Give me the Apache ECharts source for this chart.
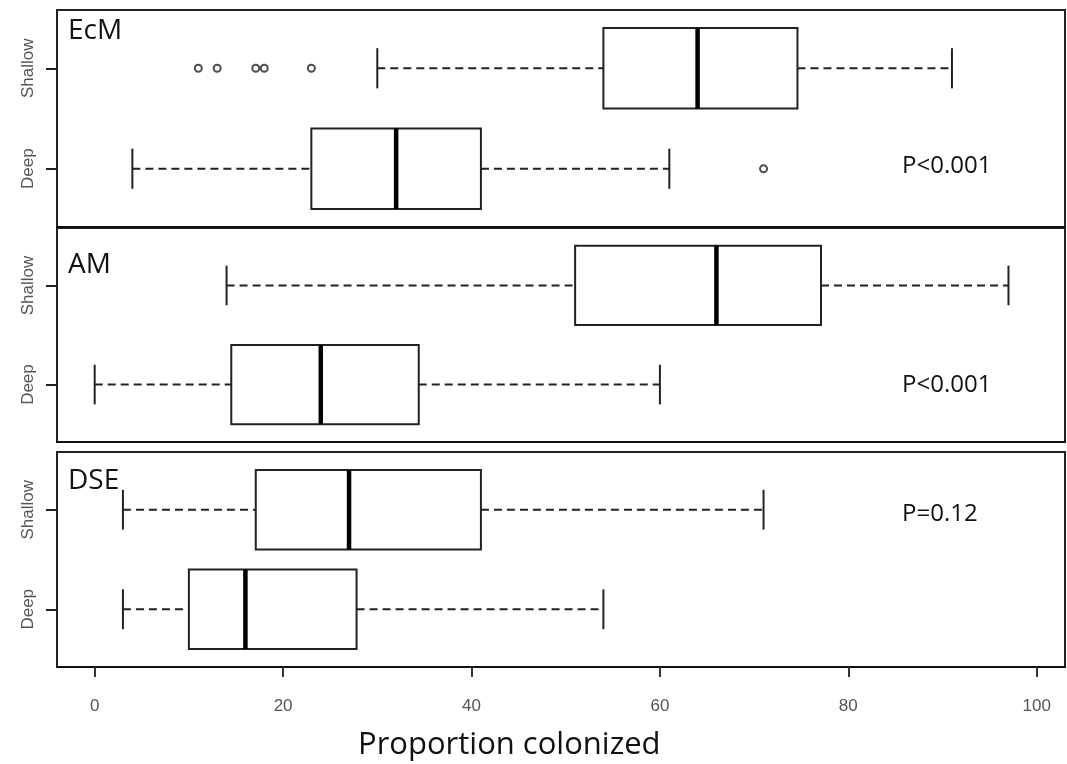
<!DOCTYPE html>
<html>
<head>
<meta charset="utf-8">
<script src="https://cdn.jsdelivr.net/npm/echarts@6/dist/echarts.min.js"></script>
<style>html,body{margin:0;padding:0;background:#fff}#c{width:1067px;height:764px}</style>
</head>
<body>
<div id="c"></div>
<script>
// ---- data ----
const xTicks = [0, 20, 40, 60, 80, 100];
const groups = ['Deep', 'Shallow'];          // y positions 1, 2
const panels = ['EcM', 'AM', 'DSE'];
const pValues = ['P<0.001', 'P<0.001', 'P=0.12'];
// [lower whisker, Q1, median, Q3, upper whisker]
const ecmDeep = [4, 23, 32, 41, 61];
const ecmShallow = [30, 54, 64, 74.6, 91];
const amDeep = [0, 14.5, 24, 34.4, 60];
const amShallow = [14, 51, 66, 77.1, 97];
const dseDeep = [3, 10, 16, 27.8, 54];
const dseShallow = [3, 17.1, 27, 41, 71];
const ecmDeepOutliers = [71];
const ecmShallowOutliers = [11, 13, 17.1, 18, 23];
const amDeepOutliers = [];
const amShallowOutliers = [];
const dseDeepOutliers = [];
const dseShallowOutliers = [];

const boxes = [[ecmDeep, ecmShallow], [amDeep, amShallow], [dseDeep, dseShallow]];
const outliers = [[ecmDeepOutliers, ecmShallowOutliers], [amDeepOutliers, amShallowOutliers], [dseDeepOutliers, dseShallowOutliers]];

// ---- layout ----
const gridTops = [10, 228, 452];
const gridHeights = [217, 214, 215];

const chart = echarts.init(document.getElementById('c'), null, {renderer: 'canvas'});

const grid = [], xAxis = [], yAxis = [], series = [];
panels.forEach((name, i) => {
  grid.push({left: 57, right: 2, top: gridTops[i], height: gridHeights[i], show: true,
    borderColor: '#222', borderWidth: 2, backgroundColor: '#fff'});
  const last = i === panels.length - 1;
  xAxis.push({
    type: 'value', gridIndex: i, min: -4, max: 103, interval: 20,
    axisLine: {show: true, onZero: false, lineStyle: {color: '#111', width: 2}},
    axisTick: {show: last, length: 10, lineStyle: {color: '#333', width: 2}, customValues: xTicks},
    axisLabel: {show: last, customValues: xTicks, margin: 31, fontSize: 17, color: '#555', fontFamily: 'Liberation Sans'},
    splitLine: {show: false}
  });
  yAxis.push({
    type: 'value', gridIndex: i, min: 0.42, max: 2.58,
    axisLine: {show: true, onZero: false, lineStyle: {color: '#222', width: 2}},
    axisTick: {show: true, length: 11, customValues: [1, 2], lineStyle: {color: '#222', width: 2}},
    axisLabel: {show: true, customValues: [1, 2], rotate: 90, margin: 20, fontSize: 17, color: '#555',
      fontFamily: 'Liberation Sans', formatter: v => groups[Math.round(v) - 1]},
    splitLine: {show: false}
  });
  const data = boxes[i].map((b, g) => [g + 1].concat(b));
  series.push({
    type: 'custom', xAxisIndex: i, yAxisIndex: i, data: data,
    encode: {x: [1, 2, 3, 4, 5], y: 0},
    renderItem: function (params, api) {
      const y = api.value(0);
      const lo = api.coord([api.value(1), y]);
      const q1 = api.coord([api.value(2), y]);
      const md = api.coord([api.value(3), y]);
      const q3 = api.coord([api.value(4), y]);
      const hi = api.coord([api.value(5), y]);
      const half = api.size([0, 0.4])[1];
      const cap = api.size([0, 0.2])[1];
      const cy = lo[1];
      const dash = {stroke: '#222', lineWidth: 2, lineDash: [8, 5]};
      const solid = {stroke: '#222', lineWidth: 2};
      return {type: 'group', children: [
        {type: 'line', shape: {x1: lo[0], y1: cy, x2: q1[0], y2: cy}, style: dash},
        {type: 'line', shape: {x1: q3[0], y1: cy, x2: hi[0], y2: cy}, style: dash},
        {type: 'line', shape: {x1: lo[0], y1: cy - cap, x2: lo[0], y2: cy + cap}, style: solid},
        {type: 'line', shape: {x1: hi[0], y1: cy - cap, x2: hi[0], y2: cy + cap}, style: solid},
        {type: 'rect', shape: {x: q1[0], y: cy - half, width: q3[0] - q1[0], height: 2 * half},
          style: {fill: '#fff', stroke: '#222', lineWidth: 2}},
        {type: 'line', shape: {x1: md[0], y1: cy - half, x2: md[0], y2: cy + half},
          style: {stroke: '#000', lineWidth: 4.5}}
      ]};
    },
    silent: true, z: 3
  });
  const pts = [];
  outliers[i].forEach((arr, g) => arr.forEach(v => pts.push([v, g + 1])));
  series.push({
    type: 'scatter', xAxisIndex: i, yAxisIndex: i, data: pts,
    symbol: 'circle', symbolSize: 7,
    itemStyle: {color: '#fff', borderColor: '#222', borderWidth: 2}, silent: true, z: 4
  });
});

const graphic = [];
const labelY = [35, 269, 485];
panels.forEach((name, i) => {
  graphic.push({type: 'text', left: 68, top: labelY[i] - 18,
    style: {text: name, font: '28px "Open Sans"', fill: '#111'}});
});
const pY = [169, 388, 517];
pValues.forEach((t, i) => {
  graphic.push({type: 'text', left: 902, top: pY[i] - 15,
    style: {text: t, font: '24px "Open Sans"', fill: '#111'}});
});
graphic.push({type: 'text', left: 358, top: 730,
  style: {text: 'Proportion colonized', font: '31px "Open Sans"', fill: '#111'}});

chart.setOption({animation: false, grid, xAxis, yAxis, series, graphic});
</script>
</body>
</html>
